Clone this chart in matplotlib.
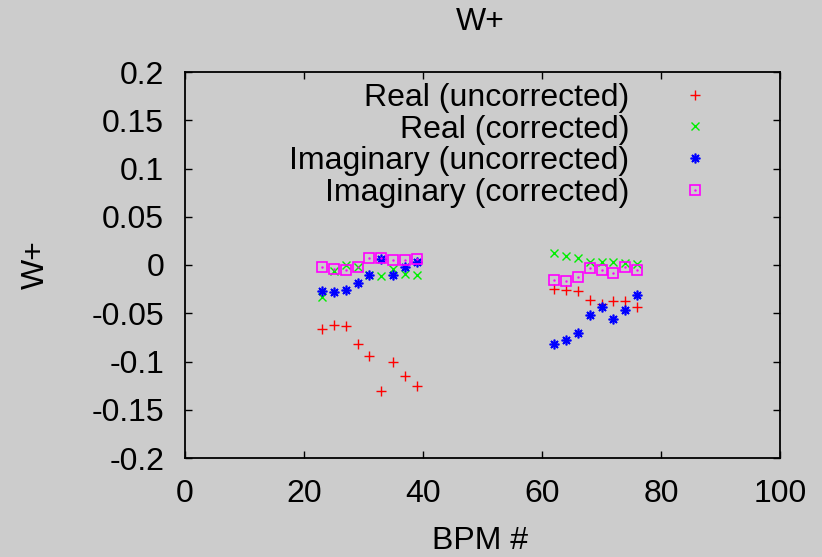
import matplotlib.pyplot as plt
from matplotlib.legend_handler import HandlerTuple

plt.rcParams['font.family'] = ['Liberation Sans', 'DejaVu Sans']

# BPM numbers for the two groups of monitors
bpm_a = [23, 25, 27, 29, 31, 33, 35, 37, 39]
bpm_b = [62, 64, 66, 68, 70, 72, 74, 76]
bpm = bpm_a + bpm_b

real_uncorr = [-0.066, -0.062, -0.063, -0.082, -0.094, -0.131, -0.100, -0.115, -0.125,
               -0.025, -0.026, -0.027, -0.036, -0.040, -0.0375, -0.0375, -0.044]
real_corr = [-0.033, -0.006, 0.000, -0.002, -0.010, -0.011, -0.004, -0.009, -0.010,
             0.012, 0.009, 0.007, 0.003, 0.003, 0.003, 0.002, 0.001]
imag_uncorr = [-0.027, -0.028, -0.026, -0.019, -0.010, 0.006, -0.010, -0.002, 0.0035,
               -0.082, -0.078, -0.070, -0.052, -0.044, -0.056, -0.047, -0.031]
imag_corr = [-0.002, -0.0045, -0.005, -0.002, 0.0073, 0.0076, 0.0056, 0.0049, 0.0066,
             -0.016, -0.017, -0.012, -0.003, -0.0056, -0.0087, -0.002, -0.005]

labels = ['Real (uncorrected)', 'Real (corrected)',
          'Imaginary (uncorrected)', 'Imaginary (corrected)']

W, H = 822, 557
bg = '#cccccc'
fs = 23
fig = plt.figure(figsize=(W / 100, H / 100), dpi=100, facecolor=bg)
ax = fig.add_axes([185 / W, 1 - 458 / H, 595 / W, 386 / H], facecolor=bg)

h1, = ax.plot(bpm, real_uncorr, ls='none', marker='+', ms=6.5, mew=1, color='#ff0000')
h2, = ax.plot(bpm, real_corr, ls='none', marker='x', ms=6, mew=1, color='#00ee00')
h3, = ax.plot(bpm, imag_uncorr, ls='none', marker=(8, 2, 0), ms=7, mew=1.2, color='#0000ff')
h4a, = ax.plot(bpm, imag_corr, ls='none', marker='s', ms=6.5, mew=1.2,
               mfc='none', color='#ff00ff')
h4b, = ax.plot(bpm, imag_corr, ls='none', marker='.', ms=1.5, color='#ff00ff')

ax.set_xlim(0, 100)
ax.set_ylim(-0.2, 0.2)
ax.set_xticks([0, 20, 40, 60, 80, 100])
ax.set_yticks([-0.2, -0.15, -0.1, -0.05, 0, 0.05, 0.1, 0.15, 0.2])
ax.set_yticklabels(['-0.2', '-0.15', '-0.1', '-0.05', '0', '0.05', '0.1', '0.15', '0.2'])
ax.tick_params(direction='in', length=5, width=1, top=True, right=True, labelsize=fs)
ax.tick_params(axis='x', pad=15)
ax.tick_params(axis='y', pad=15)
for s in ax.spines.values():
    s.set_linewidth(1.3)

fig.text(480 / W, 1 - 22 / H, 'W+', fontsize=fs, ha='center', va='center')
fig.text(480 / W, 1 - 541 / H, 'BPM #', fontsize=fs, ha='center', va='center')
fig.text(36 / W, 1 - 265 / H, 'W+', fontsize=fs, ha='center', va='center', rotation=90)

ax.legend([h1, h2, h3, (h4a, h4b)], labels,
          handler_map={tuple: HandlerTuple(ndivide=1)},
          loc='upper right', bbox_to_anchor=(711 / W, 1 - 83 / H),
          bbox_transform=fig.transFigure, frameon=False,
          markerfirst=False, fontsize=fs, handlelength=1.0, handletextpad=1.55,
          labelspacing=0.05, borderaxespad=0, borderpad=0)

fig.savefig('out.png', dpi=100, facecolor=bg)
